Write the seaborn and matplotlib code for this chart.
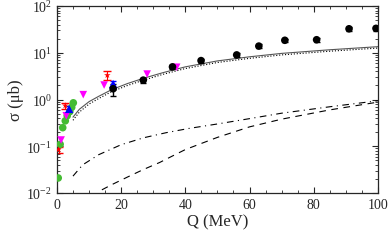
import numpy as np
import pandas as pd
import matplotlib
matplotlib.use('Agg')
import matplotlib.pyplot as plt
import seaborn as sns
from matplotlib.ticker import MultipleLocator, LogLocator, NullFormatter

# Theory curves
curve_q = [5, 7, 10, 13, 17, 22, 27, 33, 40, 50, 60, 70, 85, 100]
solid_sigma = [0.42, 0.62, 0.90, 1.17, 1.62, 2.2, 2.85, 3.75, 5.0, 6.7, 8.2, 9.7, 11.6, 13.5]
dotted_sigma = [0.36, 0.54, 0.80, 1.05, 1.47, 2.0, 2.6, 3.45, 4.6, 6.2, 7.6, 9.0, 10.8, 12.6]
dashdot_q = [5, 8, 13, 20, 27, 34, 41, 50, 60, 70, 85, 100]
dashdot_sigma = [0.023, 0.040, 0.066, 0.108, 0.152, 0.195, 0.24, 0.30, 0.39, 0.51, 0.70, 0.94]
dashed_q = [14, 17, 22, 27, 32, 36, 40, 45, 50, 60, 70, 85, 100]
dashed_sigma = [0.0117, 0.015, 0.022, 0.032, 0.045, 0.062, 0.085, 0.115, 0.155, 0.26, 0.38, 0.60, 0.88]

# Data sets
black_q = [17.5, 26.9, 36.0, 44.9, 56.0, 62.9, 71.0, 80.9, 91.0, 99.4]
black_sigma = [1.7, 2.6, 5.0, 6.8, 9.0, 13.9, 18.5, 19.0, 32.6, 33.3]
black_err = [0.5, 0.3, 0.5, 0.7, 1.0, 1.3, 1.6, 2.0, 3.5, 4.0]

magenta_q = [1.3, 2.9, 8.2, 14.7, 28.1, 37.3]
magenta_sigma = [0.136, 0.45, 1.27, 2.04, 3.5, 4.9]

blue_q = [3.8, 17.5]
blue_sigma = [0.63, 2.15]
blue_err = [0.09, 0.35]

red_q = [0.5, 2.6, 15.7]
red_sigma = [0.085, 0.74, 3.3]
red_err = [0.013, 0.1, 0.7]

green_q = [0.4, 1.0, 1.8, 2.6, 3.2, 4.0, 4.6, 5.1]
green_sigma = [0.021, 0.11, 0.25, 0.35, 0.45, 0.55, 0.68, 0.85]

sns.set_style('ticks')
plt.rcParams['font.family'] = ['Liberation Serif', 'DejaVu Serif']
plt.rcParams['mathtext.fontset'] = 'stix'

fig = plt.figure(figsize=(3.9, 2.51), dpi=100)
ax = fig.add_axes([0.146, 0.227, 0.823, 0.745])

lw = 0.8
sns.lineplot(x=curve_q, y=solid_sigma, ax=ax, color='#555555', lw=lw, linestyle='-')
sns.lineplot(x=curve_q, y=dotted_sigma, ax=ax, color='black', lw=lw, linestyle=':')
sns.lineplot(x=dashdot_q, y=dashdot_sigma, ax=ax, color='black', lw=lw,
             linestyle=(0, (6, 4, 1, 4)))
sns.lineplot(x=dashed_q, y=dashed_sigma, ax=ax, color='black', lw=lw,
             linestyle=(0, (6, 5)))

# error bars
ax.errorbar(black_q, black_sigma, yerr=black_err, fmt='none', ecolor='black',
            elinewidth=1, capsize=2.5)
ax.errorbar(blue_q, blue_sigma, yerr=blue_err, fmt='none', ecolor='blue',
            elinewidth=1, capsize=2.5)
ax.errorbar(red_q, red_sigma, yerr=red_err, fmt='none', ecolor='red',
            elinewidth=0.8, capsize=3)

sns.scatterplot(x=green_q, y=green_sigma, ax=ax, color='#44bb33', marker='o',
                s=30, edgecolor='none', zorder=3)
sns.scatterplot(x=magenta_q, y=magenta_sigma, ax=ax, color='magenta', marker='v',
                s=30, edgecolor='none', zorder=3)
sns.scatterplot(x=blue_q, y=blue_sigma, ax=ax, color='blue', marker='^',
                s=36, edgecolor='none', zorder=4)
sns.scatterplot(x=red_q, y=red_sigma, ax=ax, color='red', marker='*',
                s=24, edgecolor='none', zorder=4)
sns.scatterplot(x=black_q, y=black_sigma, ax=ax, color='black', marker='o',
                s=30, edgecolor='none', zorder=4)

ax.set_yscale('log')
ax.set_xlim(0, 100)
ax.set_ylim(1e-2, 1e2)
ax.xaxis.set_major_locator(MultipleLocator(20))
ax.xaxis.set_minor_locator(MultipleLocator(5))
ax.yaxis.set_major_locator(LogLocator(base=10, numticks=10))
ax.yaxis.set_minor_locator(LogLocator(base=10, subs=np.arange(2, 10), numticks=20))
ax.yaxis.set_minor_formatter(NullFormatter())
ax.tick_params(which='both', direction='in', top=True, right=True, labelsize=10)
ax.tick_params(which='major', length=4, width=0.8)
ax.tick_params(which='minor', length=2, width=0.6)
for s in ax.spines.values():
    s.set_linewidth(0.9)

ax.set_xlabel('Q (MeV)', fontsize=12, labelpad=2)
ax.set_ylabel('σ (μb)', fontsize=12, labelpad=2)

fig.savefig('out.png', dpi=100)
